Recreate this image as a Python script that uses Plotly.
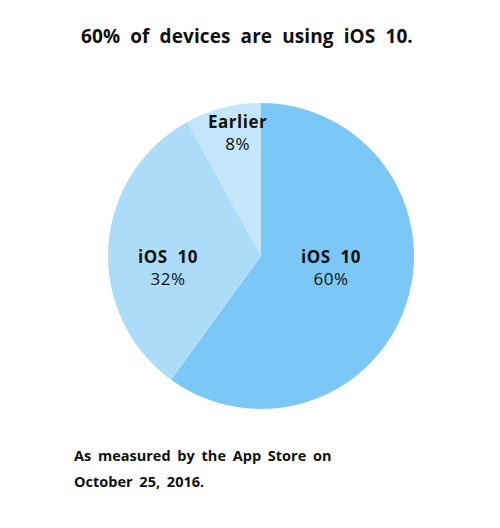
import plotly.graph_objects as go

# Share of devices by OS version
labels = ["iOS 10", "iOS 10", "Earlier"]
shares = [60, 32, 8]
colors = ["#7BC8F6", "#ADDCF9", "#C3E6FA"]

title_text = "60% of devices are using iOS 10."
note_lines = ["As measured by the App Store on", "October 25, 2016."]

FONT = "Open Sans"
W, H = 500, 528


def spaced(text, word=5, letter=0.5):
    """Wrap text in a span with wider word and letter spacing."""
    return (f'<span style="word-spacing:{word}px;letter-spacing:{letter}px">'
            f"{text}</span>")


def paper(px, py):
    return px / W, 1 - py / H


fig = go.Figure(
    go.Pie(
        labels=[f"{l} ({i})" for i, l in enumerate(labels)],
        values=shares,
        sort=False,
        direction="clockwise",
        rotation=0,
        marker=dict(colors=colors, line=dict(width=0)),
        textinfo="none",
        hoverinfo="skip",
        showlegend=False,
        domain=dict(x=[0.216, 0.828], y=[0.2254, 0.805]),
    )
)

# Slice labels: name in bold, share below
label_pos = [(331, 267), (168, 267), (237.5, 132)]
for (px, py), name, val in zip(label_pos, labels, shares):
    x, y = paper(px, py)
    fig.add_annotation(
        x=x, y=y, xref="paper", yref="paper",
        xanchor="center", yanchor="middle",
        text=f"<b>{spaced(name)}</b><br>{spaced(f'{val}%')}",
        showarrow=False, align="center",
        font=dict(family=FONT, size=17, color="#111111"),
    )

x, y = paper(247, 36)
fig.add_annotation(
    x=x, y=y, xref="paper", yref="paper",
    xanchor="center", yanchor="middle",
    text=f"<b>{spaced(title_text, 5, 0.1)}</b>", showarrow=False,
    font=dict(family=FONT, size=19, color="#111111"),
)

for i, line in enumerate(note_lines):
    x, y = paper(72, 455.5 + 25.5 * i)
    fig.add_annotation(
        x=x, y=y, xref="paper", yref="paper",
        xanchor="left", yanchor="middle",
        text=f"<b>{spaced(line, 3, 0)}</b>", showarrow=False,
        font=dict(family=FONT, size=14.5, color="#111111"),
    )

fig.update_layout(
    width=W, height=H,
    margin=dict(l=0, r=0, t=0, b=0),
    paper_bgcolor="white", plot_bgcolor="white",
)

fig.write_html("out.html")
